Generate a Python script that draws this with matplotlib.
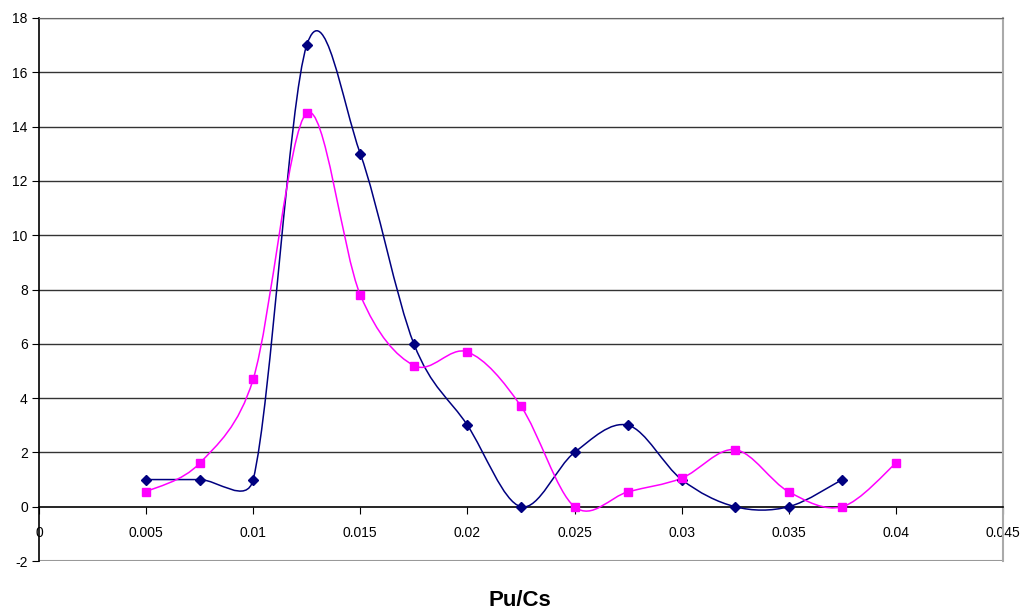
import matplotlib.pyplot as plt
import numpy as np
from matplotlib.path import Path
from matplotlib.patches import PathPatch

plt.rcParams['font.family'] = ['Liberation Sans', 'DejaVu Sans']
plt.rcParams['axes.unicode_minus'] = False

x_blue = [0.005, 0.0075, 0.01, 0.0125, 0.015, 0.0175, 0.02, 0.0225, 0.025,
          0.0275, 0.03, 0.0325, 0.035, 0.0375]
y_blue = [1, 1, 1, 17, 13, 6, 3, 0, 2, 3, 1, 0, 0, 1]

x_pink = [0.005, 0.0075, 0.01, 0.0125, 0.015, 0.0175, 0.02, 0.0225, 0.025,
          0.0275, 0.03, 0.0325, 0.035, 0.0375, 0.04]
y_pink = [0.55, 1.6, 4.7, 14.5, 7.8, 5.2, 5.7, 3.7, 0.0, 0.55, 1.05, 2.1,
          0.55, 0.0, 1.6]

x_ticks = [0, 0.005, 0.01, 0.015, 0.02, 0.025, 0.03, 0.035, 0.04, 0.045]
x_labels = ["0", "0.005", "0.01", "0.015", "0.02", "0.025", "0.03", "0.035",
            "0.04", "0.045"]
y_ticks = [-2, 0, 2, 4, 6, 8, 10, 12, 14, 16, 18]


def smooth_path(ax, xs, ys):
    # Excel style smoothed line, worked out in screen space:
    # control offset = (next - prev) / 6, capped at half the segment length
    pts = ax.transData.transform(np.column_stack([xs, ys]))
    n = len(pts)
    verts = [pts[0]]
    codes = [Path.MOVETO]
    for i in range(n - 1):
        p0 = pts[max(i - 1, 0)]
        p1 = pts[i]
        p2 = pts[i + 1]
        p3 = pts[min(i + 2, n - 1)]
        d12 = np.hypot(*(p2 - p1))
        t1 = (p2 - p0) / 6
        t2 = (p3 - p1) / 6
        for t in (t1, t2):
            ln = np.hypot(*t)
            if ln > d12 / 2:
                t *= (d12 / 2) / ln
        verts += [p1 + t1, p2 - t2, p2]
        codes += [Path.CURVE4] * 3
    verts = ax.transData.inverted().transform(np.array(verts))
    return Path(verts, codes)


fig = plt.figure(figsize=(10.23, 6.10), dpi=100)
ax = fig.add_axes([0.0381, 0.0803, 0.9423, 0.8902])
ax.set_xlim(0, 0.045)
ax.set_ylim(-2, 18)

for xs, ys, col, mk, ms in [(x_blue, y_blue, "#000080", "D", 5.5),
                            (x_pink, y_pink, "#FF00FF", "s", 6)]:
    ax.add_patch(PathPatch(smooth_path(ax, xs, ys), facecolor="none",
                           edgecolor=col, lw=1.1, zorder=3))
    ax.plot(xs, ys, linestyle="none", marker=mk, color=col, ms=ms, zorder=4)

ax.set_xticks(x_ticks)
ax.set_xticklabels(x_labels)
ax.set_yticks(y_ticks)

for y in y_ticks[2:]:
    ax.axhline(y, color="#333333", lw=1, zorder=1)
ax.axhline(-2, color="#999999", lw=1.5, zorder=1)

ax.spines["bottom"].set_position(("data", 0))
ax.spines["bottom"].set_color("black")
ax.spines["bottom"].set_linewidth(1.2)
ax.spines["left"].set_linewidth(1.2)
ax.spines["top"].set_color("#666666")
ax.spines["right"].set_color("#aaaaaa")
ax.spines["right"].set_linewidth(1.5)

ax.tick_params(axis="x", direction="out", length=5, pad=9, labelsize=10)
ax.tick_params(axis="y", direction="out", length=5, pad=3, labelsize=10)

fig.text(0.508, 0.006, "Pu/Cs", ha="center", va="baseline", fontsize=16,
         fontweight="bold")

fig.savefig("out.png", dpi=100)
